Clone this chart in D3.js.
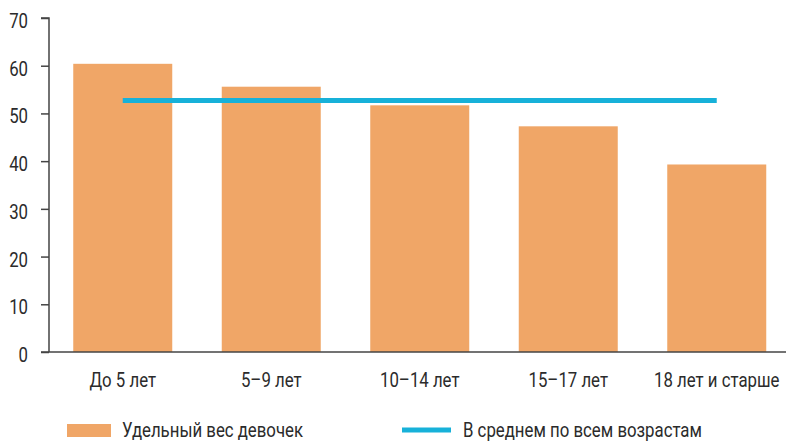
<!DOCTYPE html>
<html>
<head>
<meta charset="utf-8">
<script src="https://cdn.jsdelivr.net/npm/d3@7"></script>
<style>
  body { margin: 0; background: #fff; }
  text { font-family: Roboto, "Noto Sans", sans-serif; fill: #2b2b2b; }
</style>
</head>
<body>
<div id="chart"></div>
<script>
// chart values
var categories = ["До 5 лет", "5–9 лет", "10–14 лет", "15–17 лет", "18 лет и старше"];
var girlsShare = [60.4, 55.6, 51.7, 47.3, 39.3];
var averageAll = [52.7, 52.7, 52.7, 52.7, 52.7];
var yTicks = [0, 10, 20, 30, 40, 50, 60, 70];
var legendLabels = ["Удельный вес девочек", "В среднем по всем возрастам"];

var width = 786, height = 442;
var barColor = "#f0a667", lineColor = "#17b1d9", axisColor = "#444";
var squeeze = 0.8; // no condensed font here, so narrow the glyphs by hand
var fontSize = "21px";

var svg = d3.select("#chart").append("svg")
    .attr("width", width)
    .attr("height", height);

// squeeze text horizontally, keeping its anchor point in place
function condense(sel){
    sel.each(function(){
        var t = d3.select(this);
        var x0 = +t.attr("x") || 0;
        t.attr("x", x0 / squeeze)
            .attr("transform", "scale(" + squeeze + ",1)")
            .style("font-size", fontSize);
    });
}

var x = d3.scaleBand()
    .domain(categories)
    .range([48.5, 791])
    .paddingInner(1 / 3)
    .paddingOuter(1 / 6);

var y = d3.scaleLinear()
    .domain([0, 70])
    .range([352, 18]);

// bars
svg.append("g")
    .selectAll("rect")
    .data(categories)
    .enter()
    .append("rect")
    .attr("x", function(d){ return x(d); })
    .attr("y", function(d, i){ return y(girlsShare[i]); })
    .attr("width", x.bandwidth())
    .attr("height", function(d, i){ return y(0) - y(girlsShare[i]); })
    .style("fill", barColor);

// average line, from the first bar centre to the last
var line = d3.line()
    .x(function(d, i){ return x(categories[i]) + x.bandwidth() / 2; })
    .y(function(d){ return y(d); });

svg.append("path")
    .datum(averageAll)
    .attr("d", line)
    .style("fill", "none")
    .style("stroke", lineColor)
    .style("stroke-width", 5);

// y axis
var yAxis = svg.append("g")
    .attr("transform", "translate(49,0)")
    .call(d3.axisLeft(y).tickValues(yTicks).tickSize(8).tickPadding(13));
yAxis.select(".domain").attr("d", "M-8," + y(70) + "H0V" + y(0)).style("stroke", axisColor).style("stroke-width", 1.5);
yAxis.selectAll(".tick line").style("stroke", axisColor).style("stroke-width", 1.5);
yAxis.selectAll(".tick text").style("fill", "#2b2b2b").attr("dy", "0.45em").call(condense);

// x axis
var xAxis = svg.append("g")
    .attr("transform", "translate(0," + y(0) + ")")
    .call(d3.axisBottom(x).tickSize(0).tickPadding(20));
xAxis.select(".domain").attr("d", "M41,0H786").style("stroke", axisColor).style("stroke-width", 1.5);
xAxis.selectAll(".tick text").style("fill", "#2b2b2b").call(condense);

// legend
var legend = svg.append("g");
legend.append("rect")
    .attr("x", 67).attr("y", 424)
    .attr("width", 44).attr("height", 13)
    .style("fill", barColor);
legend.append("text")
    .attr("x", 122).attr("y", 437)
    .text(legendLabels[0])
    .call(condense);
legend.append("line")
    .attr("x1", 402).attr("x2", 451)
    .attr("y1", 430).attr("y2", 430)
    .style("stroke", lineColor)
    .style("stroke-width", 5);
legend.append("text")
    .attr("x", 463).attr("y", 437)
    .text(legendLabels[1])
    .call(condense);
</script>
</body>
</html>
